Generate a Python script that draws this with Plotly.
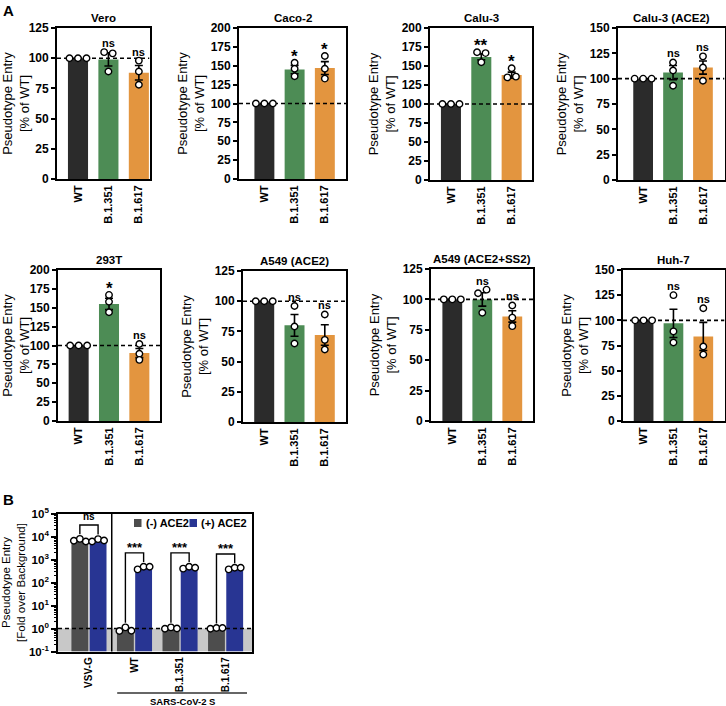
import numpy as np
import plotly.graph_objects as go

W, H = 726, 706
FONT = "Arial, 'Liberation Sans', sans-serif"

# ---------------- data: panel A (% of WT) ----------------
variants = ["WT", "B.1.351", "B.1.617"]
variant_colors = ["#2b2b2b", "#4d8c55", "#e3953f"]
cell_lines = ["Vero", "Caco-2", "Calu-3", "Calu-3 (ACE2)",
              "293T", "A549 (ACE2)", "A549 (ACE2+SS2)", "Huh-7"]
y_max = [125, 200, 200, 150, 200, 125, 125, 150]

vero_mean = [100, 99, 88]
vero_sem = [0, 5.5, 6.0]
vero_reps = [[100, 100, 100], [105, 104, 89], [98, 89, 78]]
vero_sig = ["", "ns", "ns"]

caco2_mean = [100, 145, 147]
caco2_sem = [0, 5.5, 8.5]
caco2_reps = [[100, 100, 100], [154, 146, 136], [163, 146, 133]]
caco2_sig = ["", "*", "*"]

calu3_mean = [100, 162, 138]
calu3_sem = [0, 4.0, 4.0]
calu3_reps = [[100, 100, 100], [168, 155, 167], [135, 147, 136]]
calu3_sig = ["", "**", "*"]

calu3ace2_mean = [100, 106, 111]
calu3ace2_sem = [0, 7.0, 6.5]
calu3ace2_reps = [[100, 100, 100], [116, 108, 93], [122, 111, 98]]
calu3ace2_sig = ["", "ns", "ns"]

t293_mean = [100, 155, 90]
t293_sem = [0, 7.5, 6.0]
t293_reps = [[100, 100, 100], [167, 158, 144], [102, 89, 81]]
t293_sig = ["", "*", "ns"]

a549ace2_mean = [100, 80, 72]
a549ace2_sem = [0, 9.0, 8.5]
a549ace2_reps = [[100, 100, 100], [96, 79, 65], [89, 68, 60]]
a549ace2_sig = ["", "ns", "ns"]

a549ss2_mean = [100, 100, 86]
a549ss2_sem = [0, 5.5, 4.7]
a549ss2_reps = [[100, 100, 100], [105, 108, 89], [95, 85, 78]]
a549ss2_sig = ["", "ns", "ns"]

huh7_mean = [100, 97, 84]
huh7_sem = [0, 14.0, 14.0]
huh7_reps = [[100, 100, 100], [125, 89, 78], [112, 74, 66]]
huh7_sig = ["", "ns", "ns"]

# ---------------- data: panel B (fold over background) ----------------
b_groups = ["VSV-G", "WT", "B.1.351", "B.1.617"]
b_neg_mean = [7200, 0.9, 1.0, 1.03]
b_pos_mean = [6800, 450, 440, 415]
b_neg_reps = [[6500, 7900, 6100], [0.78, 1.12, 0.80], [0.98, 1.12, 1.0], [0.98, 1.05, 1.05]]
b_pos_reps = [[6100, 7700, 6700], [372, 486, 486], [400, 486, 437], [372, 437, 437]]
b_sig = ["ns", "***", "***", "***"]
b_series = ["(-) ACE2", "(+) ACE2"]
b_colors = ["#4d4d4d", "#283593"]
b_floor = 0.1
b_yticks = [0.1, 1, 10, 100, 1000, 10000, 100000]
b_yticktext = ["10<sup>-1</sup>", "10<sup>0</sup>", "10<sup>1</sup>", "10<sup>2</sup>",
               "10<sup>3</sup>", "10<sup>4</sup>", "10<sup>5</sup>"]

# ---------------- layout geometry (pixels) ----------------
GEOM_A = [
    (57, 149.5, 28, 179, -0.69, 2.35),
    (239, 346, 28, 179, -0.84, 2.70),
    (430, 532, 28, 180, -0.69, 2.67),
    (618, 724.5, 28, 180, -0.84, 2.72),
    (58, 160, 270, 421, -0.68, 2.68),
    (243, 346, 271, 422, -0.70, 2.70),
    (431, 533, 269, 421, -0.71, 2.69),
    (623, 724.5, 270, 421, -0.69, 2.71),
]
GEOM_B = (58, 252, 513.5, 651.5, -0.68, 3.58)

panels = [
    (vero_mean, vero_sem, vero_reps, vero_sig),
    (caco2_mean, caco2_sem, caco2_reps, caco2_sig),
    (calu3_mean, calu3_sem, calu3_reps, calu3_sig),
    (calu3ace2_mean, calu3ace2_sem, calu3ace2_reps, calu3ace2_sig),
    (t293_mean, t293_sem, t293_reps, t293_sig),
    (a549ace2_mean, a549ace2_sem, a549ace2_reps, a549ace2_sig),
    (a549ss2_mean, a549ss2_sem, a549ss2_reps, a549ss2_sig),
    (huh7_mean, huh7_sem, huh7_reps, huh7_sig),
]


def swarm(vals, px_per_val, step, thr_px=5.5, log=False):
    v = np.log10(vals) if log else np.asarray(vals, float)
    order = list(np.argsort(v, kind="stable"))
    clusters, cur = [], [order[0]]
    for a, b in zip(order[:-1], order[1:]):
        if (v[b] - v[a]) * px_per_val < thr_px:
            cur.append(b)
        else:
            clusters.append(cur)
            cur = [b]
    clusters.append(cur)
    offs = [0.0] * len(vals)
    for c in clusters:
        c = sorted(c)
        n = len(c)
        for j, idx in enumerate(c):
            offs[idx] = (j - (n - 1) / 2) * step
    return offs


def f(size, bold=True):
    return dict(family=FONT, size=size, color="#000000", weight="bold" if bold else "normal")


fig = go.Figure()
axes = {}
annotations = []
shapes = []

point_marker = dict(size=6.5, color="white", line=dict(color="black", width=1.4))

for i, (mean, sem, reps, sig) in enumerate(panels):
    n = i + 1
    xa = "x" if n == 1 else f"x{n}"
    ya = "y" if n == 1 else f"y{n}"
    x0, x1, y0, y1, xr0, xr1 = GEOM_A[i]
    ymax = y_max[i]
    ppx = (x1 - x0) / (xr1 - xr0)
    ppy = (y1 - y0) / ymax
    cats = list(range(len(variants)))

    fig.add_trace(go.Bar(
        x=cats, y=mean, width=0.66,
        marker=dict(color=variant_colors, line=dict(width=0)),
        error_y=dict(type="data", array=sem, visible=True, color="black", thickness=1.6, width=4),
        xaxis=xa, yaxis=ya, showlegend=False, hoverinfo="skip"))
    fig.add_trace(go.Scatter(
        x=[xr0, xr1], y=[100, 100], mode="lines",
        line=dict(color="black", width=1.6, dash="4px,3px"),
        xaxis=xa, yaxis=ya, showlegend=False, hoverinfo="skip"))
    for k, r in enumerate(reps):
        offs = swarm(r, ppy, 8.5 / ppx)
        fig.add_trace(go.Scatter(
            x=[k + o for o in offs], y=r, mode="markers", marker=point_marker,
            xaxis=xa, yaxis=ya, showlegend=False, hoverinfo="skip", cliponaxis=False))
        if sig[k]:
            top = max(max(r), mean[k] + sem[k])
            star = sig[k].startswith("*")
            annotations.append(dict(
                x=k, y=top, xref=xa, yref=ya, text=sig[k], showarrow=False,
                yanchor="bottom", yshift=-5 if star else 1,
                font=f(17 if star else 11)))

    axes["xaxis" + ("" if n == 1 else str(n))] = dict(
        domain=[x0 / W, x1 / W], range=[xr0, xr1], anchor=ya, automargin=False,
        tickmode="array", tickvals=cats, ticktext=variants, tickangle=-90, ticks="",
        showline=True, linecolor="black", linewidth=1.8, mirror=True,
        showgrid=False, zeroline=False, tickfont=f(11), fixedrange=True)
    axes["yaxis" + ("" if n == 1 else str(n))] = dict(
        domain=[1 - y1 / H, 1 - y0 / H], range=[0, ymax], anchor=xa, automargin=False,
        tickmode="linear", tick0=0, dtick=25,
        ticks="outside", ticklen=4, tickwidth=1.5, tickcolor="black",
        showline=True, linecolor="black", linewidth=1.8, mirror=True,
        showgrid=False, zeroline=False, tickfont=f(12), fixedrange=True,
        title=dict(text="Pseudotype Entry<br>[% of WT]", font=f(13, bold=False), standoff=3))
    annotations.append(dict(
        x=(x0 + x1) / 2 / W, y=1 - (y0 - 10) / H, xref="paper", yref="paper",
        text=cell_lines[i], showarrow=False, xanchor="center", yanchor="middle",
        font=f(11.5)))

# ---------------- panel B ----------------
xa, ya = "x9", "y9"
x0, x1, y0, y1, xr0, xr1 = GEOM_B
ppx = (x1 - x0) / (xr1 - xr0)
ppy_log = (y1 - y0) / 6.0
gcats = list(range(len(b_groups)))
OFF = 0.2

for vals, off, name, col in ((b_neg_mean, -0.385, b_series[0], b_colors[0]),
                             (b_pos_mean, 0.015, b_series[1], b_colors[1])):
    fig.add_trace(go.Bar(x=gcats, y=[v - b_floor for v in vals], base=b_floor,
                         width=0.37, offset=off, name=name,
                         marker=dict(color=col, line=dict(width=0)),
                         xaxis=xa, yaxis=ya, showlegend=False, hoverinfo="skip"))
fig.add_trace(go.Scatter(x=[xr0, xr1], y=[1, 1], mode="lines",
                         line=dict(color="black", width=1.6, dash="4px,3px"),
                         xaxis=xa, yaxis=ya, showlegend=False, hoverinfo="skip"))
for g in gcats:
    for reps, side in ((b_neg_reps[g], -OFF), (b_pos_reps[g], OFF)):
        offs = swarm(reps, ppy_log, 6 / ppx, log=True)
        fig.add_trace(go.Scatter(x=[g + side + o for o in offs], y=reps, mode="markers",
                                 marker=point_marker, xaxis=xa, yaxis=ya,
                                 showlegend=False, hoverinfo="skip", cliponaxis=False))
    # significance bracket
    lmax, rmax = max(b_neg_reps[g]), max(b_pos_reps[g])
    top = np.log10(max(lmax, rmax)) + 0.6
    lb, rb = np.log10(lmax) + 0.2, np.log10(rmax) + 0.2
    fig.add_trace(go.Scatter(x=[g - OFF, g - OFF, g + OFF, g + OFF],
                             y=[10 ** lb, 10 ** top, 10 ** top, 10 ** rb], mode="lines",
                             line=dict(color="black", width=1.4), xaxis=xa, yaxis=ya,
                             showlegend=False, hoverinfo="skip"))
    star = b_sig[g].startswith("*")
    annotations.append(dict(x=g, y=top, xref=xa, yref=ya, text=b_sig[g], showarrow=False,
                            yanchor="bottom", yshift=-4 if star else 1,
                            font=f(13 if star else 10)))

minor_vals = [m * 10.0 ** e for e in range(-1, 5) for m in range(2, 10)]
axes["xaxis9"] = dict(
    domain=[x0 / W, x1 / W], range=[xr0, xr1], anchor=ya, automargin=False,
    tickmode="array", tickvals=gcats, ticktext=b_groups, tickangle=-90, ticks="",
    showline=True, linecolor="black", linewidth=1.6, mirror=True,
    showgrid=False, zeroline=False, tickfont=f(10), fixedrange=True)
axes["yaxis9"] = dict(
    domain=[1 - y1 / H, 1 - y0 / H], type="log", range=[-1, 5], anchor=xa, automargin=False,
    tickmode="array", tickvals=b_yticks, ticktext=b_yticktext,
    ticks="outside", ticklen=5, tickwidth=1.5, tickcolor="black",
    minor=dict(tickmode="array", tickvals=minor_vals, ticks="outside", ticklen=2.5,
               tickwidth=1, tickcolor="black", showgrid=False),
    showline=True, linecolor="black", linewidth=1.6, mirror=True,
    showgrid=False, zeroline=False, tickfont=f(11.5), fixedrange=True,
    title=dict(text="Pseudotype Entry<br>[Fold over Background]", font=f(11.5, bold=False), standoff=3))

# background band (below detection) and divider
shapes.append(dict(type="rect", xref="x9 domain", yref="y9", x0=0, x1=1, y0=b_floor, y1=1,
                   fillcolor="#c8c8c8", line=dict(width=0), layer="below"))
shapes.append(dict(type="line", xref="x9", yref="y9 domain", x0=0.5, x1=0.5, y0=0, y1=1,
                   line=dict(color="black", width=1.5)))
# SARS-CoV-2 S group line
shapes.append(dict(type="line", xref="x9", yref="paper", x0=0.62, x1=3.47,
                   y0=1 - 693 / H, y1=1 - 693 / H, line=dict(color="#333333", width=1.5)))
annotations.append(dict(x=2.05, y=1 - 701 / H, xref="x9", yref="paper", text="SARS-CoV-2 S",
                        showarrow=False, xanchor="center", yanchor="middle", font=f(9.5)))

# manual legend
for (lx, tx), label, col in zip(((134, 144), (189.5, 199.5)), b_series, b_colors):
    shapes.append(dict(type="rect", xref="paper", yref="paper", x0=lx / W, x1=(lx + 7.5) / W,
                       y0=1 - 527 / H, y1=1 - 519 / H, fillcolor=col, line=dict(width=0)))
    annotations.append(dict(x=tx / W, y=1 - 523 / H, xref="paper", yref="paper", text=label,
                            showarrow=False, xanchor="left", yanchor="middle", font=f(11)))

# panel letters
annotations.append(dict(x=1 / W, y=1 - 0 / H, xref="paper", yref="paper", text="A",
                        showarrow=False, xanchor="left", yanchor="top", font=f(15)))
annotations.append(dict(x=1 / W, y=1 - 489 / H, xref="paper", yref="paper", text="B",
                        showarrow=False, xanchor="left", yanchor="top", font=f(15)))

fig.update_layout(
    template="none",
    width=W, height=H, autosize=False,
    margin=dict(l=0, r=0, t=0, b=0, pad=0),
    paper_bgcolor="white", plot_bgcolor="white",
    barmode="overlay", showlegend=False,
    font=dict(family=FONT, color="#000000"),
    annotations=annotations, shapes=shapes,
    **axes)

fig.write_html("out.html", config={"displayModeBar": False},
               post_script="document.body.style.margin='0';document.body.style.padding='0';")
